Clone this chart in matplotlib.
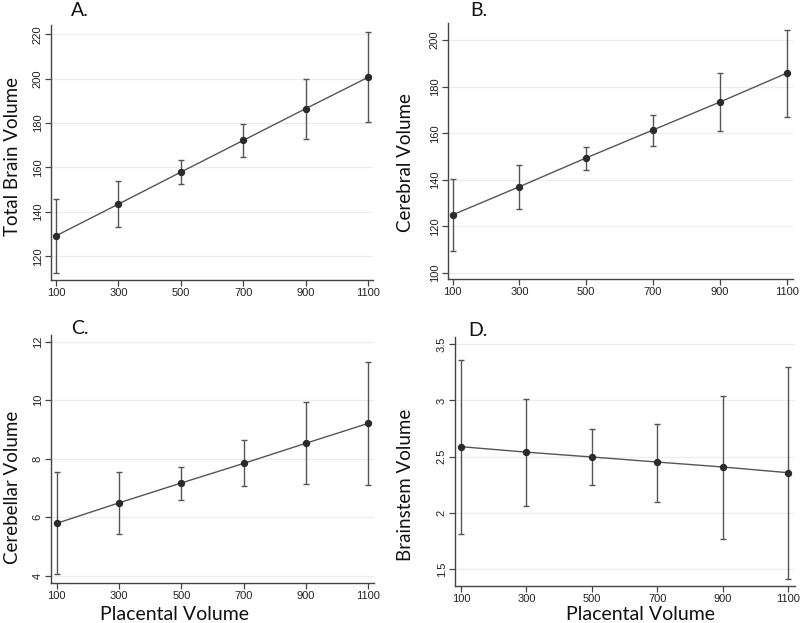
import matplotlib
matplotlib.use("Agg")
import matplotlib.pyplot as plt
import numpy as np

# ---- data ----
placental = [100, 300, 500, 700, 900, 1100]

total_brain = [129.2, 143.5, 157.9, 172.2, 186.5, 200.6]
total_brain_lo = [112.3, 133.4, 152.5, 164.8, 172.7, 180.3]
total_brain_hi = [145.9, 153.7, 163.2, 179.5, 199.7, 220.9]

cerebral = [124.9, 137.0, 149.4, 161.4, 173.4, 185.8]
cerebral_lo = [109.4, 127.6, 144.3, 154.5, 161.0, 166.9]
cerebral_hi = [140.1, 146.2, 154.2, 168.0, 186.0, 204.6]

cerebellar = [5.79, 6.49, 7.17, 7.84, 8.53, 9.21]
cerebellar_lo = [4.05, 5.44, 6.59, 7.06, 7.12, 7.11]
cerebellar_hi = [7.53, 7.53, 7.71, 8.63, 9.93, 11.30]

brainstem = [2.589, 2.540, 2.497, 2.452, 2.408, 2.357]
brainstem_lo = [1.81, 2.06, 2.245, 2.10, 1.767, 1.408]
brainstem_hi = [3.36, 3.01, 2.746, 2.794, 3.037, 3.30]

x_ticks = [100, 300, 500, 700, 900, 1100]
yticks_A = [120, 140, 160, 180, 200, 220]
yticks_B = [100, 120, 140, 160, 180, 200]
yticks_C = [4, 6, 8, 10, 12]
yticks_D = [1.5, 2, 2.5, 3, 3.5]
ytick_labels_D = ["1.5", "2", "2.5", "3", "3.5"]

panel_letters = ["A.", "B.", "C.", "D."]
ylabels = ["Total Brain Volume", "Cerebral Volume", "Cerebellar Volume", "Brainstem Volume"]
xlabel = "Placental Volume"

# ---- style ----
W, H = 800, 623
fig = plt.figure(figsize=(W / 100, H / 100), dpi=100)
fig.patch.set_facecolor("white")

tick_font = ["Liberation Sans Narrow", "Liberation Sans", "DejaVu Sans"]
label_font = ["Lato", "DejaVu Sans"]

def px_rect(l, t, r, b):
    return [l / W, 1 - b / H, (r - l) / W, (b - t) / H]

specs = [
    dict(rect=px_rect(51, 25, 373, 280), y=total_brain, lo=total_brain_lo, hi=total_brain_hi,
         yt=yticks_A, ytl=[str(v) for v in yticks_A], xlim=(84, 1116), ylim=(109.3, 224.2)),
    dict(rect=px_rect(448, 23, 793, 279), y=cerebral, lo=cerebral_lo, hi=cerebral_hi,
         yt=yticks_B, ytl=[str(v) for v in yticks_B], xlim=(86, 1119), ylim=(97.3, 207.4)),
    dict(rect=px_rect(51, 335, 374, 583), y=cerebellar, lo=cerebellar_lo, hi=cerebellar_hi,
         yt=yticks_C, ytl=[str(v) for v in yticks_C], xlim=(82, 1118), ylim=(3.75, 12.23)),
    dict(rect=px_rect(455, 337, 795, 586), y=brainstem, lo=brainstem_lo, hi=brainstem_hi,
         yt=yticks_D, ytl=ytick_labels_D, xlim=(82, 1120), ylim=(1.349, 3.565)),
]

for s in specs:
    ax = fig.add_axes(s["rect"])
    y = np.array(s["y"])
    lo = np.array(s["lo"])
    hi = np.array(s["hi"])
    ax.errorbar(placental, y, yerr=[y - lo, hi - y], fmt="none", ecolor="#555555",
                elinewidth=1.0, capsize=2.2, capthick=1.0, zorder=2)
    ax.plot(placental, y, color="#555555", lw=1.0, zorder=3)
    ax.plot(placental, y, "o", color="#2b2b2b", ms=4.3, zorder=4)
    ax.set_xlim(*s["xlim"])
    ax.set_ylim(*s["ylim"])
    ax.set_xticks(x_ticks)
    ax.set_xticklabels([str(v) for v in x_ticks], fontfamily=tick_font, fontsize=8, color="#222222")
    ax.set_yticks(s["yt"])
    ax.set_yticklabels(s["ytl"], fontfamily=tick_font, fontsize=8, color="#222222",
                       rotation=90, va="center")
    ax.grid(axis="y", color="#ededed", lw=0.9)
    ax.set_axisbelow(True)
    for sp in ["top", "right"]:
        ax.spines[sp].set_visible(False)
    for sp in ["left", "bottom"]:
        ax.spines[sp].set_color("#444444")
        ax.spines[sp].set_linewidth(1.0)
    ax.tick_params(axis="both", direction="out", length=4, width=0.9, color="#444444", pad=2)

# panel letters
letter_pos = [(80, 10), (479, 10), (80, 329), (478, 331)]
for (px, py), t in zip(letter_pos, panel_letters):
    fig.text(px / W, 1 - py / H, t, fontfamily=label_font, fontsize=14, ha="center", va="center",
             color="#111111")

# y labels
ylabel_pos = [(13, 157), (406, 163), (13, 487), (406, 485)]
for (px, py), t in zip(ylabel_pos, ylabels):
    fig.text(px / W, 1 - py / H, t, fontfamily=label_font, fontsize=13.5, rotation=90,
             ha="center", va="center", color="#111111")

# x labels
for px in (174, 641):
    fig.text(px / W, 1 - 615 / H, xlabel, fontfamily=label_font, fontsize=14,
             ha="center", va="center", color="#111111")

fig.savefig("out.png", dpi=100, facecolor="white")
